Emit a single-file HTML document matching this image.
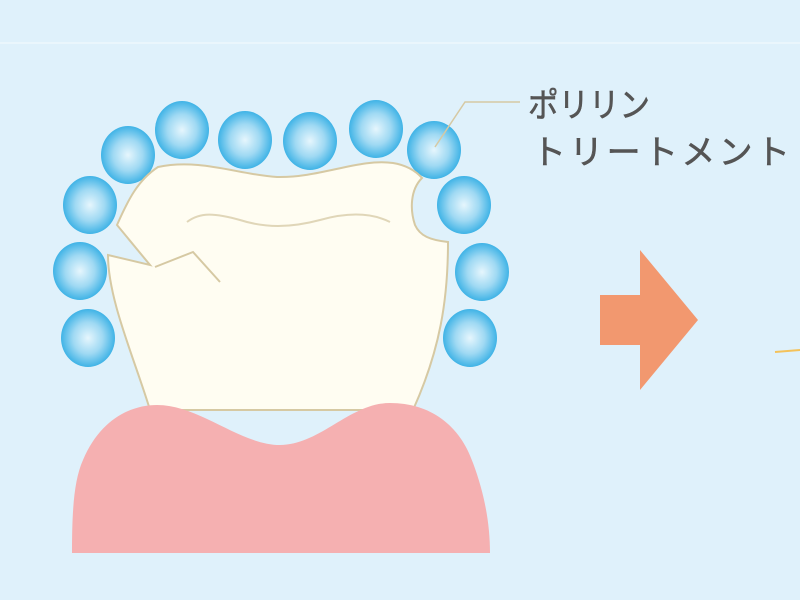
<!DOCTYPE html>
<html><head><meta charset="utf-8"><style>
html,body{margin:0;padding:0;background:#dff1fb;}
svg{display:block}
text{font-family:"Liberation Sans","Noto Sans CJK JP",sans-serif;}
</style></head><body>
<svg width="800" height="600" viewBox="0 0 800 600" xmlns="http://www.w3.org/2000/svg">
<defs>
<radialGradient id="b" cx="50%" cy="50%" r="50%">
<stop offset="0" stop-color="#e6f6fd"/>
<stop offset="0.55" stop-color="#9fd9f3"/>
<stop offset="1" stop-color="#3fb3e6"/>
</radialGradient>
</defs>
<rect width="800" height="600" fill="#dff1fb"/>
<rect x="0" y="42" width="800" height="2" fill="#eaf6fc"/>
<g fill="url(#b)">
<ellipse cx="128" cy="155" rx="27" ry="29"/>
<ellipse cx="182" cy="130" rx="27" ry="29"/>
<ellipse cx="245" cy="140" rx="27" ry="29"/>
<ellipse cx="310" cy="141" rx="27" ry="29"/>
<ellipse cx="376" cy="129" rx="27" ry="29"/>
<ellipse cx="434" cy="150" rx="27" ry="29"/>
<ellipse cx="90" cy="205" rx="27" ry="29"/>
<ellipse cx="464" cy="205" rx="27" ry="29"/>
<ellipse cx="80" cy="271" rx="27" ry="29"/>
<ellipse cx="482" cy="272" rx="27" ry="29"/>
<ellipse cx="88" cy="338" rx="27" ry="29"/>
<ellipse cx="470" cy="338" rx="27" ry="29"/>
</g>
<path d="M117,225 C128,200 138,180 158,167 C200,158 240,175 277,177 C320,178 360,158 393,163 C405,165 415,170 422,178 C410,190 410,210 415,225 C420,236 430,240 448,242 C448,300 440,350 413,410 L150,410 C135,360 108,300 108,255 L150,265 Z" fill="#fffdf2" stroke="#d6c9a3" stroke-width="2"/>
<path d="M155,267 L193,252 L220,282" fill="none" stroke="#d6c9a3" stroke-width="2"/>
<path d="M187,222 C200,212 215,213 240,220 C265,228 290,228 320,220 C345,213 370,212 390,222" fill="none" stroke="#e0d6b8" stroke-width="2"/>
<path d="M72,553 C72,510 74,480 83,460 C100,420 130,405 157,405 C200,405 240,445 280,445 C320,445 350,403 390,403 C430,403 460,425 473,463 C485,495 490,525 490,553 Z" fill="#f5b0b1"/>
<path d="M600,295 L640,295 L640,250 L698,320 L640,390 L640,345 L600,345 Z" fill="#f2986f"/>
<path d="M775,352 L800,350" stroke="#f4c25a" stroke-width="2"/>
<path d="M520,102 L465,102 L435,147" fill="none" stroke="#d6c9a3" stroke-width="1.5"/>
<text x="528" y="117" font-size="34" fill="#555" stroke="#555" stroke-width="0.6" textLength="122" lengthAdjust="spacingAndGlyphs">ポリリン</text>
<text x="532" y="164" font-size="34" fill="#555" stroke="#555" stroke-width="0.6" textLength="258" lengthAdjust="spacing">トリートメント</text>
</svg>
</body></html>
